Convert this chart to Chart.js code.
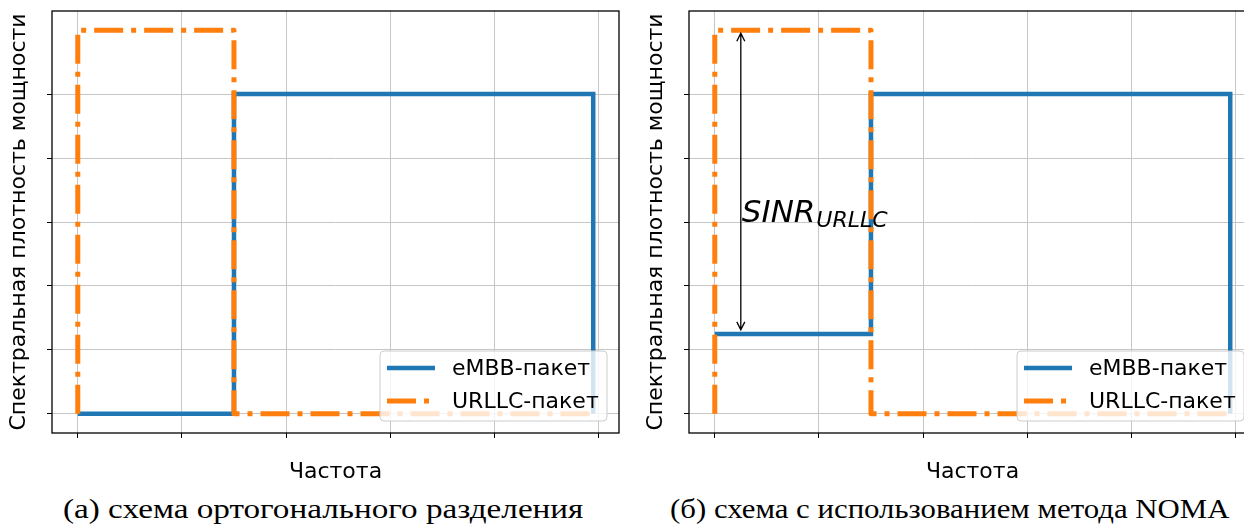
<!DOCTYPE html>
<html>
<head>
<meta charset="utf-8">
<script src="https://cdn.jsdelivr.net/npm/chart.js@4/dist/chart.umd.min.js"></script>
<style>
  html, body { margin: 0; padding: 0; background: #fff; }
  body { width: 1244px; height: 524px; position: relative; overflow: hidden; }
  canvas { position: absolute; top: 0; }
  .cap { position: absolute; top: 494px; line-height: 30px; white-space: nowrap;
         font-family: "Liberation Serif", serif; font-size: 27px; color: #000;
         transform-origin: 0 0; }
</style>
</head>
<body>
<canvas id="chartA" width="630" height="485" style="left:0px"></canvas>
<canvas id="chartB" width="630" height="485" style="left:637px"></canvas>
<span class="cap" id="capA" style="left:63px">(а) схема ортогонального разделения</span>
<span class="cap" id="capB" style="left:670px">(б) схема с использованием метода NOMA</span>

<script>
// step outlines of the two packets (x = frequency, y = power spectral density)
const embbXA  = [0, 1.5, 1.5, 4.95, 4.95];
const embbYA  = [0, 0, 1, 1, 0];
const embbXB  = [0, 1.5, 1.5, 4.95, 4.95];
const embbYB  = [0.25, 0.25, 1, 1, 0];
const urllcX  = [0, 0, 1.5, 1.5, 4.95];
const urllcY  = [0, 1.2, 1.2, 0, 0];

const xTicks = [0, 1, 2, 3, 4, 5];
const yTicks = [0, 0.2, 0.4, 0.6, 0.8, 1.0];

const seriesNames = ['eMBB-пакет', 'URLLC-пакет'];
const xTitle = 'Частота';
const yTitle = 'Спектральная плотность мощности';

// SINR arrow on panel (б)
const sinrX = 0.25;
const sinrFrom = 0.25;
const sinrTo = 1.2;
const sinrTextY = 0.6;

const BLUE = '#1f77b4';
const ORANGE = '#ff7f0e';
const FONT = '"DejaVu Sans", sans-serif';
const GRID = '#c6c6c6';

const toPts = (xs, ys) => xs.map((x, i) => ({ x, y: ys[i] }));

// frame around the plot area (all four spines)
const framePlugin = {
  id: 'frame',
  afterDatasetsDraw(chart) {
    const { ctx, chartArea: a } = chart;
    ctx.save();
    ctx.strokeStyle = '#000';
    ctx.lineWidth = 1.3;
    ctx.strokeRect(a.left, a.top, a.right - a.left, a.bottom - a.top);
    ctx.restore();
  }
};

// legend box in lower right corner, matplotlib style
const boxLegend = {
  id: 'boxLegend',
  afterDraw(chart) {
    const { ctx, chartArea: a } = chart;
    const w = 227, h = 70;
    const x = a.right - 12 - w, y = a.bottom - 12 - h;
    ctx.save();
    ctx.beginPath();
    ctx.roundRect(x, y, w, h, 4);
    ctx.fillStyle = 'rgba(255,255,255,0.8)';
    ctx.fill();
    ctx.strokeStyle = '#cccccc';
    ctx.lineWidth = 1;
    ctx.stroke();
    chart.data.datasets.forEach((ds, i) => {
      const ly = y + 17 + i * 33;
      ctx.beginPath();
      ctx.setLineDash(ds.borderDash || []);
      ctx.lineCap = 'butt';
      ctx.strokeStyle = ds.borderColor;
      ctx.lineWidth = ds.borderWidth;
      ctx.moveTo(x + 7, ly);
      ctx.lineTo(x + 55, ly);
      ctx.stroke();
      ctx.setLineDash([]);
      ctx.fillStyle = '#000';
      ctx.font = '22px ' + FONT;
      ctx.textBaseline = 'middle';
      ctx.fillText(ds.label, x + 72, ly + 1);
    });
    ctx.restore();
  }
};

// double headed arrow with SINR label
const sinrPlugin = {
  id: 'sinr',
  afterDatasetsDraw(chart, args, opts) {
    if (!opts.show) return;
    const { ctx, scales: { x, y } } = chart;
    const px = x.getPixelForValue(sinrX);
    const top = y.getPixelForValue(sinrTo) + 3;
    const bot = y.getPixelForValue(sinrFrom) - 4;
    ctx.save();
    ctx.strokeStyle = '#000';
    ctx.lineWidth = 1.3;
    ctx.beginPath();
    ctx.moveTo(px, top); ctx.lineTo(px, bot);
    ctx.moveTo(px - 4, top + 8); ctx.lineTo(px, top); ctx.lineTo(px + 4, top + 8);
    ctx.moveTo(px - 4, bot - 8); ctx.lineTo(px, bot); ctx.lineTo(px + 4, bot - 8);
    ctx.stroke();
    const ty = y.getPixelForValue(sinrTextY);
    ctx.fillStyle = '#000';
    ctx.textBaseline = 'alphabetic';
    ctx.font = 'italic 31px ' + FONT;
    ctx.fillText('SINR', px + 1, ty);
    const w = ctx.measureText('SINR').width;
    ctx.font = 'italic 22px ' + FONT;
    ctx.fillText('URLLC', px + 1 + w + 1, ty + 5);
    ctx.restore();
  }
};

function makeChart(id, embbX, embbY, withArrow) {
  const ctx = document.getElementById(id).getContext('2d');
  return new Chart(ctx, {
    type: 'scatter',
    data: {
      datasets: [
        {
          label: seriesNames[0],
          data: toPts(embbX, embbY),
          showLine: true,
          order: 2,
          borderColor: BLUE,
          borderWidth: 4.5,
          borderJoinStyle: 'miter',
          pointRadius: 0,
          fill: false,
        },
        {
          label: seriesNames[1],
          data: toPts(urllcX, urllcY),
          showLine: true,
          order: 1,   // drawn over the eMBB line
          borderColor: ORANGE,
          borderWidth: 5,
          borderDash: [29, 8, 5, 8],
          borderCapStyle: 'butt',
          borderJoinStyle: 'round',
          pointRadius: 0,
          fill: false,
        },
      ],
    },
    options: {
      responsive: false,
      animation: false,
      devicePixelRatio: 1,
      layout: { padding: { left: 6, top: 11, right: 11, bottom: 0 } },
      plugins: {
        legend: { display: false },
        tooltip: { enabled: false },
        sinr: { show: withArrow },
      },
      scales: {
        x: {
          type: 'linear',
          min: -0.2475,
          max: 5.1975,
          afterBuildTicks: s => { s.ticks = xTicks.map(v => ({ value: v })); },
          afterFit: s => { s.height = 52; },
          ticks: { display: false },
          grid: { color: GRID, lineWidth: 1, tickColor: '#000', tickLength: 5 },
          border: { display: false },
          title: { display: true, text: xTitle, color: '#000',
                   font: { family: FONT, size: 22 }, padding: 0 },
        },
        y: {
          type: 'linear',
          min: -0.06,
          max: 1.26,
          afterBuildTicks: s => { s.ticks = yTicks.map(v => ({ value: v })); },
          afterFit: s => { s.width = 46; },
          ticks: { display: false },
          grid: { color: GRID, lineWidth: 1, tickColor: '#000', tickLength: 5 },
          border: { display: false },
          title: { display: true, text: yTitle, color: '#000',
                   font: { family: FONT, size: 22 }, padding: 0 },
        },
      },
    },
    plugins: [framePlugin, sinrPlugin, boxLegend],
  });
}

makeChart('chartA', embbXA, embbYA, false);
makeChart('chartB', embbXB, embbYB, true);

// stretch captions to the width they take in the figure
function fitCap(id, width) {
  const el = document.getElementById(id);
  el.style.transform = 'scaleX(' + (width / el.offsetWidth) + ')';
}
fitCap('capA', 521);
fitCap('capB', 559);
</script>
</body>
</html>
